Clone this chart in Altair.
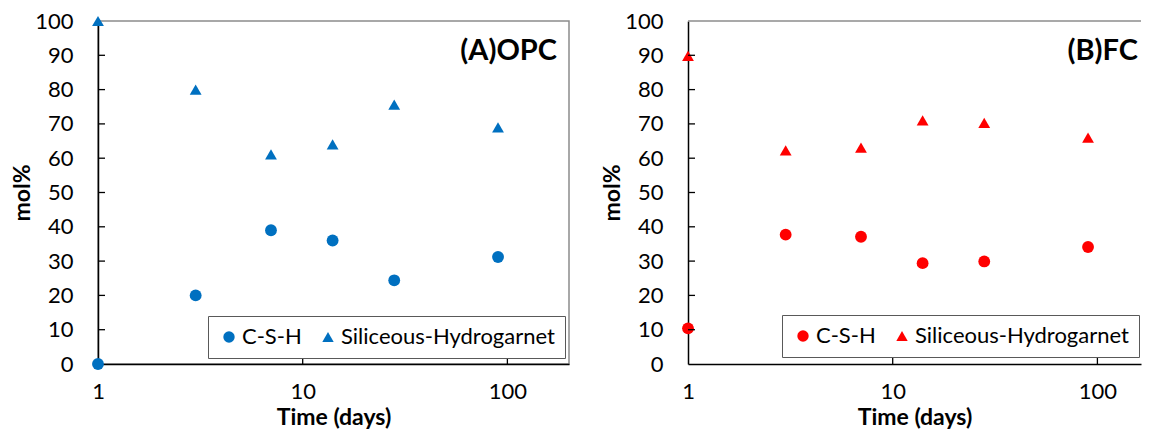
import altair as alt
import pandas as pd

days = [1, 3, 7, 14, 28, 90]
series_names = ["C-S-H", "Siliceous-Hydrogarnet"]
opc_csh = [0, 20, 39, 36, 24.4, 31.2]
opc_shg = [100, 80, 61.1, 64, 75.6, 69]
fc_csh = [10.4, 37.7, 37.1, 29.4, 29.9, 34.1]
fc_shg = [89.8, 62.3, 63.1, 71.0, 70.3, 66.0]
x_ticks = [1, 10, 100]
x_inner_ticks = [10, 100]
y_ticks = [0, 10, 20, 30, 40, 50, 60, 70, 80, 90, 100]
y_inner_ticks = [10, 20, 30, 40, 50, 60, 70, 80, 90]
panel_labels = ["(A)OPC", "(B)FC"]
colors = ["#0070C0", "#FF0000"]
x_max = [200, 163.3]

H = 343
FONT = "Lato"


def panel(csh, shg, color, label, xmax, width, label_x, legend_x, legend_y,
          right_border):
    df = pd.DataFrame({
        "day": days + days,
        "value": csh + shg,
        "series": [series_names[0]] * len(days) + [series_names[1]] * len(days),
    })
    xscale = alt.Scale(type="log", domain=[1, xmax])
    yscale = alt.Scale(domain=[0, 100])
    xaxis = alt.Axis(values=x_ticks, format="d", title="Time (days)", grid=False,
                     ticks=False, tickSize=0, labelPadding=17, labelFont=FONT,
                     labelFontSize=22, labelColor="black", titleFont=FONT,
                     titleFontSize=23, titleFontWeight="bold", titleColor="black",
                     titlePadding=4, domainColor="black", domainWidth=1.5,
                     labelFlush=False, labelOverlap=False)
    yaxis = alt.Axis(values=y_ticks, title="mol%", grid=False, ticks=False, tickSize=0,
                     labelPadding=25, labelFont=FONT, labelFontSize=22,
                     labelColor="black", titleFont=FONT, titleFontSize=23,
                     titleFontWeight="bold", titleColor="black", titlePadding=0,
                     domainColor="black", domainWidth=1.5, labelFlush=False,
                     labelOverlap=False)
    points = alt.Chart(df).mark_point(filled=True, opacity=1, color=color, size=140).encode(
        x=alt.X("day:Q", scale=xscale, axis=xaxis),
        y=alt.Y("value:Q", scale=yscale, axis=yaxis),
        shape=alt.Shape("series:N",
                        scale=alt.Scale(domain=series_names, range=["circle", "triangle-up"]),
                        legend=alt.Legend(title=None, orient="none", legendX=legend_x,
                                          legendY=legend_y, direction="horizontal",
                                          fillColor="white", strokeColor="#595959",
                                          padding=10, labelFont=FONT,
                                          labelFontSize=22, labelColor="black",
                                          symbolSize=130, symbolFillColor=color,
                                          symbolStrokeColor=color, symbolStrokeWidth=0,
                                          symbolOpacity=1, labelOffset=2,
                                          columnPadding=15, labelLimit=400)),
    )
    xt = alt.Chart(pd.DataFrame({"day": x_inner_ticks})).mark_rule(
        color="black", strokeWidth=1.3).encode(
        x=alt.X("day:Q", scale=xscale, axis=xaxis), y=alt.value(H), y2=alt.value(H - 7))
    yt = alt.Chart(pd.DataFrame({"value": y_inner_ticks})).mark_rule(
        color="black", strokeWidth=1.3).encode(
        y=alt.Y("value:Q", scale=yscale, axis=yaxis), x=alt.value(0), x2=alt.value(7))
    lab = alt.Chart(pd.DataFrame({"label": [label]})).mark_text(
        font=FONT, fontSize=29, fontWeight="bold", align="right", baseline="middle",
        color="black").encode(x=alt.value(label_x), y=alt.value(30), text="label:N")
    layers = [points, xt, yt, lab]
    if right_border:
        view = alt.ViewBackground(stroke="#8c8c8c", strokeWidth=1.5)
    else:
        view = alt.ViewBackground(stroke="transparent", strokeWidth=0)
        top = alt.Chart(pd.DataFrame({"value": [100]})).mark_rule(
            color="#8c8c8c", strokeWidth=1.5).encode(
            y=alt.Y("value:Q", scale=yscale, axis=yaxis), x=alt.value(0),
            x2=alt.value(width))
        layers.append(top)
    return alt.layer(*layers).properties(width=width, height=H, view=view)


a = panel(opc_csh, opc_shg, colors[0], panel_labels[0], x_max[0], 471, 459, 110, 295, True)
b = panel(fc_csh, fc_shg, colors[1], panel_labels[1], x_max[1], 453, 450, 94, 294, False)

chart = alt.hconcat(a, b, spacing=31).resolve_scale(
    shape="independent").resolve_legend(shape="independent").properties(
    padding={"left": 2, "top": 1, "right": 0, "bottom": 0})

chart.save("out.html", embed_options={"renderer": "svg", "actions": False})
